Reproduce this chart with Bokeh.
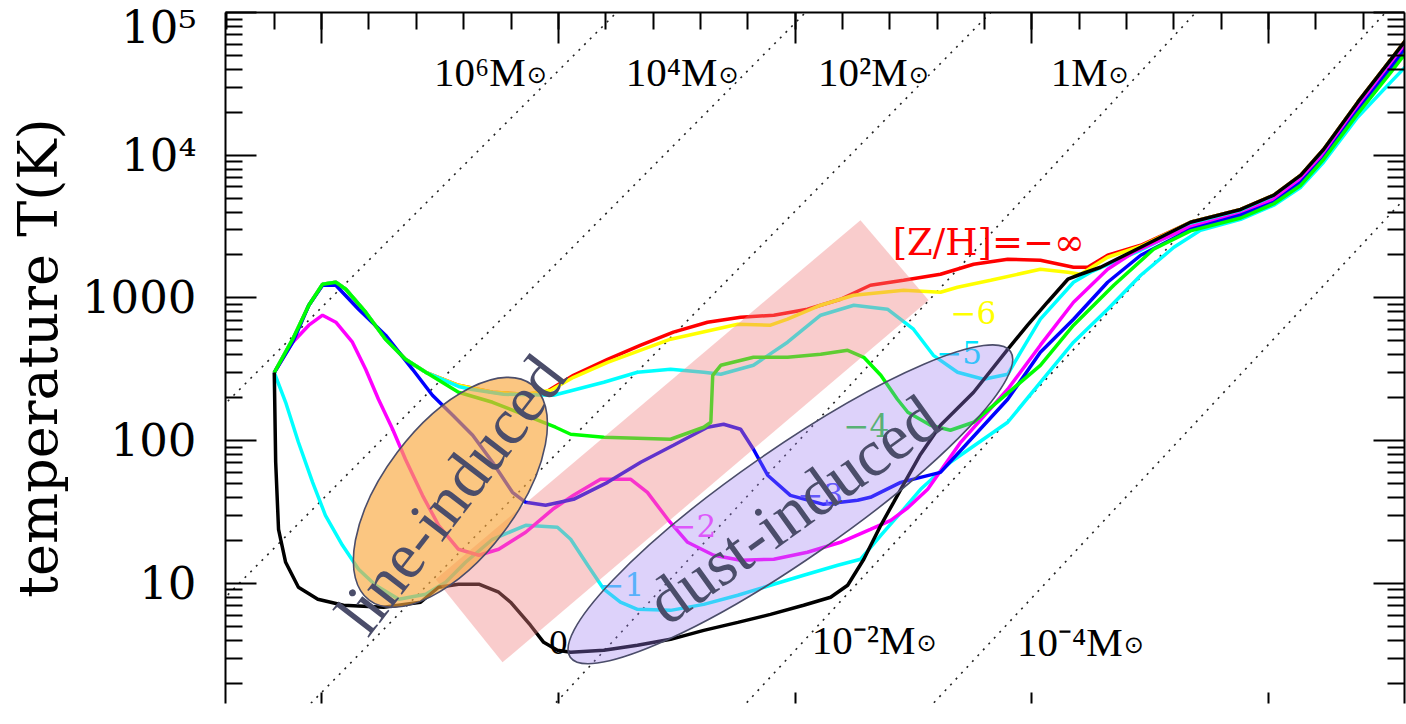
from bokeh.plotting import figure
from bokeh.models import Range1d, LinearAxis, LogAxis, FixedTicker
from bokeh.core.properties import value
from bokeh.embed import file_html
from bokeh.resources import INLINE

# ---------------- data (x = log10 n_H, y = log10 T) ----------------
tail_n = [18.35, 19.41, 20.11, 20.68, 21.16, 21.88, 22.58, 22.95]

logn_zinf = [-1.0, -0.61, -0.27, 0.02, 0.30, 0.51, 0.93, 1.35, 1.77, 2.20, 2.89, 3.61, 4.31, 4.73,
             5.32, 6.04, 6.74, 7.43, 8.15, 8.85, 9.55, 10.26, 10.96, 11.59, 12.29, 13.07, 13.77,
             14.49, 15.18, 15.88, 16.18, 16.60, 17.30] + tail_n
logT_zinf = [2.477, 2.711, 2.949, 3.096, 3.110, 3.061, 2.900, 2.711, 2.570, 2.479, 2.388, 2.339,
             2.325, 2.339, 2.458, 2.570, 2.669, 2.760, 2.830, 2.865, 2.879, 2.921, 2.991, 3.089,
             3.124, 3.166, 3.236, 3.271, 3.264, 3.215, 3.215, 3.299, 3.369,
             3.53, 3.62, 3.72, 3.86, 4.04, 4.37, 4.67, 4.83]

logn_m6 = [-1.0, -0.61, -0.27, 0.02, 0.30, 0.51, 0.93, 1.35, 1.77, 2.20, 2.89, 3.61, 4.31, 4.84,
           5.32, 6.04, 7.37, 8.79, 9.48, 9.84, 10.54, 11.24, 12.29, 13.07, 13.43, 14.13, 15.18,
           15.76, 16.03, 16.60, 17.30] + tail_n
logT_m6 = [2.477, 2.711, 2.949, 3.096, 3.110, 3.061, 2.900, 2.711, 2.570, 2.479, 2.388, 2.339,
           2.325, 2.353, 2.444, 2.549, 2.711, 2.816, 2.809, 2.851, 2.949, 3.019, 3.054, 3.040,
           3.075, 3.124, 3.201, 3.180, 3.166, 3.285, 3.362,
           3.53, 3.62, 3.72, 3.86, 4.04, 4.37, 4.67, 4.83]

logn_m5 = [-1.0, -0.61, -0.27, 0.02, 0.30, 0.51, 0.93, 1.35, 1.77, 2.20, 2.89, 3.15, 3.84, 4.90,
           5.96, 6.67, 7.37, 8.07, 8.43, 9.12, 9.84, 10.54, 11.24, 11.95, 12.50, 12.92, 13.43,
           13.98, 14.49, 14.76, 15.18, 15.88, 16.24, 17.30] + tail_n
logT_m5 = [2.477, 2.711, 2.949, 3.096, 3.110, 3.061, 2.900, 2.711, 2.570, 2.479, 2.380, 2.360,
           2.325, 2.318, 2.409, 2.479, 2.500, 2.479, 2.465, 2.528, 2.690, 2.879, 2.949, 2.921,
           2.781, 2.598, 2.479, 2.430, 2.465, 2.619, 2.851, 3.110, 3.180, 3.334,
           3.51, 3.60, 3.70, 3.84, 4.02, 4.35, 4.65, 4.80]

logn_m4 = [-1.0, -0.61, -0.27, 0.02, 0.30, 0.51, 0.93, 1.35, 1.77, 2.20, 2.89, 3.61, 4.31, 4.94,
           5.26, 5.96, 7.37, 8.07, 8.22, 8.26, 8.43, 9.12, 9.84, 10.54, 11.11, 11.45, 11.81,
           12.16, 12.38, 12.86, 13.28, 13.77, 15.18, 15.88, 16.73, 17.57] + tail_n
logT_m4 = [2.477, 2.711, 2.949, 3.096, 3.110, 3.061, 2.900, 2.711, 2.570, 2.479, 2.339, 2.269,
           2.178, 2.094, 2.045, 2.024, 2.010, 2.094, 2.129, 2.458, 2.528, 2.584, 2.584, 2.605,
           2.633, 2.584, 2.458, 2.290, 2.199, 2.108, 2.073, 2.129, 2.528, 2.809, 3.089, 3.341,
           3.47, 3.56, 3.66, 3.79, 3.97, 4.29, 4.58, 4.74]

logn_m3 = [-1.0, -0.61, -0.27, 0.02, 0.30, 0.78, 1.35, 1.92, 2.34, 2.77, 3.19, 3.61, 4.03, 4.31,
           4.73, 5.32, 6.04, 6.74, 7.43, 8.15, 8.49, 8.85, 9.12, 9.42, 9.90, 10.60, 11.32, 11.59,
           12.23, 13.07, 14.49, 15.18, 15.88, 16.60, 17.30] + tail_n
logT_m3 = [2.477, 2.690, 2.949, 3.089, 3.089, 2.921, 2.739, 2.500, 2.318, 2.178, 2.038, 1.849,
           1.638, 1.568, 1.547, 1.589, 1.708, 1.849, 1.968, 2.094, 2.115, 2.080, 1.940, 1.758,
           1.617, 1.554, 1.582, 1.603, 1.708, 1.778, 2.290, 2.620, 2.851, 3.110, 3.299,
           3.48, 3.58, 3.67, 3.81, 3.98, 4.31, 4.61, 4.77]

logn_m2 = [-1.0, -0.61, -0.27, 0.02, 0.30, 0.65, 0.93, 1.20, 1.50, 1.77, 2.13, 2.47, 2.89, 3.32,
           3.74, 4.31, 4.88, 5.32, 5.89, 6.53, 6.88, 7.31, 7.73, 8.28, 8.85, 9.55, 10.26, 10.96,
           11.59, 12.02, 12.38, 12.80, 13.50, 14.49, 15.18, 15.88, 16.60, 17.15] + tail_n
logT_m2 = [2.477, 2.690, 2.809, 2.879, 2.830, 2.690, 2.500, 2.290, 2.080, 1.870, 1.617, 1.407,
           1.239, 1.197, 1.239, 1.358, 1.519, 1.617, 1.729, 1.729, 1.638, 1.449, 1.288, 1.197,
           1.162, 1.169, 1.218, 1.288, 1.379, 1.442, 1.530, 1.659, 1.990, 2.360, 2.669, 2.970,
           3.201, 3.320, 3.50, 3.59, 3.69, 3.83, 4.00, 4.33, 4.63, 4.79]

logn_m1 = [-1.0, -0.76, -0.49, -0.19, 0.08, 0.44, 0.78, 1.14, 1.63, 2.20, 2.62, 3.04, 3.61, 4.31,
           4.98, 5.26, 5.62, 5.96, 6.31, 6.67, 7.37, 8.07, 8.79, 9.48, 10.18, 10.90, 11.38, 11.81,
           12.29, 12.65, 13.28, 14.49, 15.18, 15.88, 16.60, 17.30, 18.00, 18.56, 19.41, 20.11,
           20.68, 21.16, 21.88, 22.58, 22.95]
logT_m1 = [2.477, 2.269, 1.989, 1.708, 1.477, 1.267, 1.099, 0.987, 0.889, 0.924, 1.008, 1.148,
           1.309, 1.407, 1.393, 1.309, 1.127, 0.959, 0.868, 0.818, 0.811, 0.853, 0.917, 0.987,
           1.057, 1.127, 1.169, 1.337, 1.519, 1.659, 1.849, 2.129, 2.409, 2.690, 2.921, 3.159,
           3.355, 3.474, 3.551, 3.650, 3.776, 3.951, 4.266, 4.512, 4.640]

logn_z0 = [-1.0, -0.97, -0.91, -0.76, -0.49, -0.08, 0.46, 1.31, 2.09, 2.47, 2.89, 3.32, 3.74,
           3.99, 4.41, 4.69, 4.98, 5.26, 5.96, 6.67, 7.37, 8.07, 8.79, 9.48, 10.18, 10.75, 11.11,
           11.45, 11.81, 12.08, 12.29, 12.65, 13.07, 13.77, 14.49, 14.91, 15.33, 15.76, 16.03,
           16.45, 17.30] + tail_n
logT_z0 = [2.477, 1.849, 1.379, 1.148, 0.973, 0.889, 0.847, 0.833, 0.868, 0.973, 0.994, 0.994,
           0.938, 0.868, 0.707, 0.587, 0.531, 0.517, 0.531, 0.566, 0.608, 0.671, 0.727, 0.783,
           0.847, 0.903, 0.987, 1.169, 1.407, 1.568, 1.694, 1.905, 2.108, 2.339, 2.640, 2.809,
           2.970, 3.131, 3.166, 3.215, 3.355,
           3.53, 3.62, 3.72, 3.86, 4.04, 4.37, 4.67, 4.83]

# Constant Jeans-mass lines (end points)
jeans_labels = ["10⁶M", "10⁴M", "10²M", "1M", "10⁻²M", "10⁻⁴M"]
jeans_n0 = [-2.10, -2.10, -0.70, 4.49, 8.52, 12.47]
jeans_T0 = [2.237, 0.880, 0.000, 0.000, 0.000, 0.000]
jeans_n1 = [6.23, 10.22, 14.13, 18.46, 22.47, 23.00]
jeans_T1 = [5.000, 5.000, 5.000, 5.000, 5.000, 3.740]

curve_names = ["[Z/H]=−∞", "−6", "−5", "−4", "−3", "−2", "−1", "0"]
curve_colors = ["#ff0000", "#ffff00", "#00ffff", "#00ff00", "#0000ff", "#ff00ff", "#00ffff", "#000000"]
label_colors = ["#ff0000", "#ffff00", "#00e5ff", "#33cc33", "#4444ff", "#ff44ff", "#33ccff", "#000000"]

T = lambda arr: [10 ** v for v in arr]

# ---------------- figure ----------------
p = figure(width=1406, height=724,
           x_range=Range1d(-2.03, 22.87), y_range=Range1d(1.44, 1e5),
           y_axis_type="log", x_axis_location=None, y_axis_location="left",
           output_backend="svg", toolbar_location=None,
           min_border_left=225, min_border_right=2, min_border_top=12, min_border_bottom=21)
p.grid.visible = False
p.outline_line_color = None
p.background_fill_color = "white"
p.border_fill_color = "white"

ymajor = [10, 100, 1000, 10000, 100000]
yminor = [k * 10 ** d for d in range(0, 5) for k in range(2, 10)]
xmajor = [0, 5, 10, 15, 20]
xminor = list(range(-2, 23))

yax = p.yaxis[0]
yax.ticker = FixedTicker(ticks=ymajor, minor_ticks=yminor)
yax.major_label_overrides = {10: "10", 100: "100", 1000: "1000", 10000: "10⁴", 100000: "10⁵"}
yax.major_label_text_font = "DejaVu Serif"
yax.major_label_text_font_size = "45px"
yax.major_label_text_color = "black"
yax.major_label_standoff = 29
yax.major_tick_in = 31
yax.major_tick_out = 0
yax.minor_tick_in = 17
yax.minor_tick_out = 0
yax.major_tick_line_width = 2
yax.minor_tick_line_width = 2
yax.axis_line_width = 2
yax.axis_label = "temperature T(K)"
yax.axis_label_text_font = "DejaVu Serif"
yax.axis_label_text_font_size = "54px"
yax.axis_label_text_font_style = "normal"
yax.axis_label_text_color = "black"
yax.axis_label_standoff = 9

hidden_labels = dict(major_label_text_font_size="1px", major_label_text_color=None,
                     major_label_text_alpha=0, major_label_standoff=0)

rax = LogAxis(ticker=FixedTicker(ticks=ymajor, minor_ticks=yminor),
              major_tick_in=31, major_tick_out=0, minor_tick_in=17, minor_tick_out=0,
              major_tick_line_width=2, minor_tick_line_width=2, axis_line_width=2, **hidden_labels)
p.add_layout(rax, "right")

tax = LinearAxis(ticker=FixedTicker(ticks=xmajor, minor_ticks=xminor),
                 major_tick_in=31, major_tick_out=0, minor_tick_in=17, minor_tick_out=0,
                 major_tick_line_width=2, minor_tick_line_width=2, axis_line_width=2, **hidden_labels)
p.add_layout(tax, "above")

bax = LinearAxis(ticker=FixedTicker(ticks=xmajor, minor_ticks=[]),
                 major_tick_in=11, major_tick_out=0, minor_tick_in=0, minor_tick_out=0,
                 major_tick_line_width=2, axis_line_color=None, **hidden_labels)
p.add_layout(bax, "below")

# Jeans-mass dotted lines
p.multi_line(xs=[[a, b] for a, b in zip(jeans_n0, jeans_n1)],
             ys=[[10 ** a, 10 ** b] for a, b in zip(jeans_T0, jeans_T1)],
             line_color="#222222", line_width=1.6, line_dash="2 6")

# curves
curves = [(logn_zinf, logT_zinf, 0), (logn_m6, logT_m6, 1), (logn_m5, logT_m5, 2),
          (logn_m1, logT_m1, 6), (logn_m2, logT_m2, 5), (logn_m3, logT_m3, 4),
          (logn_m4, logT_m4, 3), (logn_z0, logT_z0, 7)]
for xs, ys, i in curves:
    p.line(xs, T(ys), line_color=curve_colors[i], line_width=3.5)

# curve labels
lab_n = [12.06, 13.28, 12.98, 11.02, 10.05, 7.37, 5.85, 4.79]
lab_T = [3.390, 2.900, 2.620, 2.108, 1.624, 1.407, 0.994, 0.587]
lab_size = ["37px", "31px", "31px", "31px", "31px", "31px", "31px", "31px"]
for i in range(8):
    p.text(x=[lab_n[i]], y=[10 ** lab_T[i]], text=[curve_names[i]], text_color=label_colors[i],
           text_font=value("DejaVu Serif"), text_font_size=lab_size[i],
           text_align="left", text_baseline="alphabetic")

# Jeans mass labels (anchored at the right edge of "M")
jl_n = [4.31, 8.36, 12.38, 16.60, 12.54, 16.92]
jl_T = [4.582, 4.582, 4.582, 4.582, 0.601, 0.587]
p.text(x=jl_n, y=T(jl_T), text=jeans_labels, text_color="black",
       text_font=value("Liberation Serif"), text_font_size="41px",
       text_align="right", text_baseline="alphabetic")
p.text(x=jl_n, y=T(jl_T), text=["⊙"] * 6, text_color="black",
       text_font=value("DejaVu Sans"), text_font_size="24px",
       text_align="left", text_baseline="middle", x_offset=1, y_offset=3)

# pink band
band_n = [2.41, 3.82, 12.82, 11.38]
band_T = [1.029, 0.447, 2.984, 3.545]
p.patch(band_n, T(band_T), fill_color="#f08080", fill_alpha=0.4, line_color=None)

# ellipses
p.ellipse(x=[2.72], y=[10 ** 1.638], width=[270], height=[133], angle=[0.925],
          width_units="screen", height_units="screen",
          fill_color="#f9a73e", fill_alpha=0.65, line_color="#4b4d6a", line_width=1.6)
p.ellipse(x=[9.90], y=[10 ** 1.554], width=[536], height=[110], angle=[0.607],
          width_units="screen", height_units="screen",
          fill_color="#9f7ff0", fill_alpha=0.35, line_color="#4b4d6a", line_width=1.6)

p.text(x=[2.72], y=[10 ** 1.624], text=["line-induced"], angle=0.916,
       text_color="#4b4d6a", text_font=value("Liberation Serif"), text_font_size="66px",
       text_align="center", text_baseline="middle")
p.text(x=[9.95], y=[10 ** 1.519], text=["dust-induced"], angle=0.623,
       text_color="#4b4d6a", text_font=value("Liberation Serif"), text_font_size="66px",
       text_align="center", text_baseline="middle")

open("out.html", "w").write(file_html(p, INLINE))
